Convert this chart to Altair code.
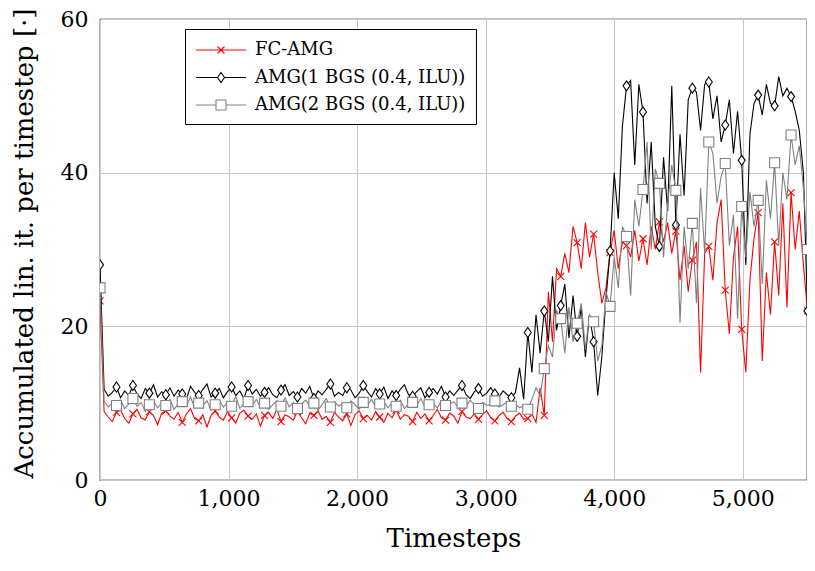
import altair as alt
import pandas as pd

STEP = 32  # timesteps between stored samples
names = ["FC-AMG", "AMG(1 BGS (0.4, ILU))", "AMG(2 BGS (0.4, ILU))"]
colors = ["#ff0000", "#000000", "#808080"]

fc_amg = [
    23.3,
    8.9, 8.2, 7.6, 8.8, 9.1, 8.0, 7.4, 8.6,
    9.2, 8.1, 7.8, 8.9, 8.4, 7.2, 8.7, 9.0,
    8.3, 7.9, 8.8, 7.5, 8.6, 9.3, 8.0, 7.7,
    8.5, 6.9, 8.4, 9.0, 8.2, 7.8, 8.9, 8.1,
    7.4, 8.7, 9.1, 8.3, 7.9, 8.6, 7.0, 8.4,
    8.8, 8.0, 9.2, 7.6, 8.5, 8.2, 7.8, 8.9,
    8.1, 7.3, 8.7, 8.4, 9.0, 7.9, 8.3, 7.5,
    8.8, 8.2, 7.7, 8.6, 7.1, 8.5, 9.0, 8.0,
    8.4, 7.8, 8.9, 8.2, 7.5, 8.7, 8.1, 9.1,
    7.9, 8.5, 8.3, 7.6, 8.8, 8.0, 8.6, 7.7,
    8.4, 9.2, 8.1, 7.8, 8.7, 8.3, 7.4, 8.9,
    8.2, 8.0, 8.6, 7.9, 8.5, 9.0, 8.1, 7.7,
    8.4, 8.8, 8.0, 7.6, 8.3, 8.7, 7.9,
    8.0, 8.6, 7.5, 12.0, 8.4, 24.5, 18.0, 27.5,
    26.5, 29.5, 27.0, 33.0, 30.9, 27.5, 33.5, 29.0,
    32.0, 27.0, 23.0, 25.0, 29.6, 32.5, 27.5, 31.0,
    30.5, 29.0, 32.5, 28.5, 31.4, 28.0, 33.0, 30.0,
    33.6, 31.0, 33.5, 29.5, 32.4, 26.0, 30.5, 24.5,
    28.6, 31.0, 14.0, 29.5, 30.4, 26.0, 33.5, 36.5,
    24.7, 19.0, 29.0, 33.0, 19.6, 14.0, 26.0, 31.5,
    34.8, 15.5, 27.0, 21.5, 31.0, 24.0, 36.0, 22.5,
    37.4, 30.0, 35.0, 28.0, 22.0,
]

amg_1bgs = [
    28.0,
    11.8, 10.9, 11.4, 12.1, 10.7, 11.6, 11.0, 12.3,
    11.2, 10.6, 11.9, 11.3, 12.4, 10.8, 11.5, 11.1,
    12.0, 10.9, 11.7, 11.2, 10.5, 12.2, 11.4, 11.0,
    11.8, 12.5, 10.8, 11.3, 11.9, 10.7, 11.5, 12.1,
    11.0, 11.6, 10.6, 12.3, 11.2, 11.8, 10.9, 11.4,
    12.0, 11.1, 10.7, 11.7, 12.4, 11.0, 11.5, 10.8,
    11.9, 11.3, 12.2, 10.6, 11.6, 11.1, 11.8, 12.5,
    10.9, 11.4, 11.0, 12.0, 11.7, 10.7, 11.3, 12.3,
    11.5, 10.8, 11.9, 11.2, 12.1, 10.6, 11.6, 11.0,
    11.8, 12.4, 11.1, 10.9, 11.5, 12.0, 10.7, 11.4,
    11.9, 11.2, 12.2, 10.8, 11.6, 11.0, 11.7, 12.3,
    11.1, 10.6, 11.5, 11.9, 10.9, 11.3, 12.0, 11.2,
    10.8, 11.6, 11.1, 10.7, 11.4, 14.6, 10.5,
    19.2, 14.0, 21.5, 16.5, 22.0, 18.0, 26.5, 19.5,
    22.7, 25.5, 18.5, 24.0, 18.7, 22.5, 16.0, 21.5,
    18.0, 11.0, 16.0, 23.5, 29.8, 40.0, 34.0, 46.0,
    51.3, 52.0, 41.0, 51.5, 47.9, 36.0, 44.0, 33.0,
    30.4, 42.0, 35.0, 51.3, 33.2, 45.0, 37.0, 49.5,
    51.0, 50.5, 45.5, 51.5, 51.8, 47.0, 50.0, 44.0,
    46.2, 49.5, 42.5, 48.0, 41.6, 28.0, 45.0, 49.0,
    50.1, 47.5, 51.5, 49.0, 48.7, 52.5, 50.0, 51.0,
    49.9, 48.0, 45.5, 40.0, 22.0,
]

amg_2bgs = [
    25.0,
    10.2, 9.5, 10.0, 9.7, 10.4, 9.3, 9.9, 10.6,
    9.6, 10.1, 8.9, 9.8, 10.3, 9.4, 10.0, 9.7,
    10.5, 9.2, 9.9, 10.2, 9.6, 10.8, 9.4, 10.0,
    9.7, 10.3, 9.1, 9.8, 10.4, 9.5, 10.1, 9.6,
    10.9, 9.3, 9.9, 10.2, 9.7, 10.5, 9.4, 10.0,
    9.2, 9.8, 10.3, 9.6, 10.7, 9.5, 10.1, 9.3,
    9.9, 10.4, 9.7, 10.0, 9.1, 9.8, 10.6, 9.5,
    10.2, 9.6, 10.0, 9.4, 10.3, 9.8, 9.2, 10.1,
    9.7, 10.5, 9.5, 9.9, 10.2, 9.4, 10.0, 9.6,
    10.4, 9.3, 9.9, 10.1, 9.7, 10.6, 9.5, 9.8,
    10.0, 9.4, 10.3, 9.7, 9.9, 10.2, 9.5, 10.0,
    9.6, 10.4, 9.8, 9.3, 10.1, 9.7, 9.9, 10.3,
    9.5, 9.8, 10.2, 9.6, 9.9, 9.4, 9.7,
    9.2, 10.5, 12.0, 11.0, 14.5, 17.5, 16.0, 22.0,
    21.0, 16.5, 22.5, 18.0, 20.4, 23.0, 17.0, 21.5,
    20.6, 15.5, 17.5, 24.5, 22.6, 29.0, 25.0, 33.0,
    31.7, 24.0, 36.5, 33.0, 37.8, 44.0, 30.0, 40.5,
    38.6, 29.0, 36.0, 41.0, 37.7, 20.5, 33.0, 27.5,
    33.4, 23.0, 38.0, 29.5, 44.0, 42.5, 36.0, 39.5,
    41.2, 30.5, 34.5, 21.0, 35.6, 29.0, 37.5, 33.0,
    36.4, 25.5, 39.0, 34.0, 41.3, 30.5, 40.0, 36.5,
    44.9, 41.0, 43.5, 38.0, 30.0,
]

series_values = [fc_amg, amg_1bgs, amg_2bgs]

rows = []
for name, vals in zip(names, series_values):
    for i, v in enumerate(vals):
        rows.append({"series": name, "t": i * STEP, "v": v, "mark": 1 if i % 4 == 0 else 0})
df = pd.DataFrame(rows)

FONT = "DejaVu Serif"

x_enc = alt.X(
    "t:Q",
    scale=alt.Scale(domain=[0, 5500], nice=False, zero=False),
    axis=alt.Axis(
        values=[0, 1000, 2000, 3000, 4000, 5000],
        labelExpr="format(datum.value, ',')", title="Timesteps",
        labelFlush=False, labelOverlap=False, labelPadding=8,
        titleY=45, titleBaseline="top",
    ),
)
y_enc = alt.Y(
    "v:Q",
    scale=alt.Scale(domain=[0, 60], nice=False),
    axis=alt.Axis(
        values=[0, 20, 40, 60], title="Accumulated lin. it. per timestep [·]",
        labelFlush=False, labelOverlap=False, labelPadding=12,
        titleX=-76, titleY=224, titleAngle=270, titleBaseline="middle", titleAlign="center",
    ),
)

marker_paths = [
    "M-1,-1L1,1M-1,1L1,-1",
    "M0,-1L0.7,0L0,1L-0.7,0Z",
    "M-1,-1L1,-1L1,1L-1,1Z",
]
marker_sizes = [49, 100, 100]
# legend glyphs: a 50px line sample with the marker in its middle (r = 10px per unit)
legend_paths = [
    "M-1,0L4,0M1.15,-0.35L1.85,0.35M1.15,0.35L1.85,-0.35",
    "M-1,0L1.15,0M1.85,0L4,0M1.5,-0.5L1.85,0L1.5,0.5L1.15,0Z",
    "M-1,0L1,0M2,0L4,0M1,-0.5L2,-0.5L2,0.5L1,0.5Z",
]

base = alt.Chart(df)
layers = []
for name, col, path, size in zip(names, colors, marker_paths, marker_sizes):
    line = base.transform_filter(alt.datum.series == name).mark_line(
        color=col, strokeWidth=1.1, clip=True
    ).encode(x=x_enc, y=y_enc, order="t:Q")
    pts = base.transform_filter(
        (alt.datum.series == name) & (alt.datum.mark == 1)
    ).mark_point(
        shape=path, size=size, filled=True, fill="white", stroke=col,
        strokeWidth=1.1, opacity=1, clip=True
    ).encode(x=x_enc, y=y_enc)
    layers += [line, pts]

leg = alt.Legend(
    title=None, orient="none", legendX=85, legendY=10, direction="vertical",
    symbolSize=400, symbolStrokeWidth=1.1, symbolFillColor="white",
    labelFont="DejaVu Serif", labelFontSize=18, labelColor="black", labelOffset=38,
    labelLimit=500, strokeColor="black", fillColor="white", padding=10, rowPadding=7.5,
    symbolOpacity=1,
)
legend_layer = base.transform_filter("false").mark_point(
    filled=True, fill="white", opacity=1, strokeWidth=1.1
).encode(
    x=x_enc, y=y_enc,
    shape=alt.Shape("series:N", scale=alt.Scale(domain=names, range=legend_paths), legend=leg),
    stroke=alt.Stroke("series:N", scale=alt.Scale(domain=names, range=colors), legend=leg),
)
layers.append(legend_layer)

chart = alt.layer(*layers).properties(
    width=707, height=461,
    autosize=alt.AutoSizeParams(type="none"),
    padding={"left": 92, "top": 11, "right": 0, "bottom": 83},
).configure_view(
    stroke="black", strokeWidth=1.2
).configure_axis(
    domain=False, ticks=False, grid=True, gridColor="#c8c8c8", gridWidth=1,
    labelFont=FONT, labelFontSize=22, labelColor="black",
    titleFont=FONT, titleFontSize=26, titleFontWeight="normal", titleColor="black",
)

chart.save("out.html", embed_options={"renderer": "svg", "actions": False})
